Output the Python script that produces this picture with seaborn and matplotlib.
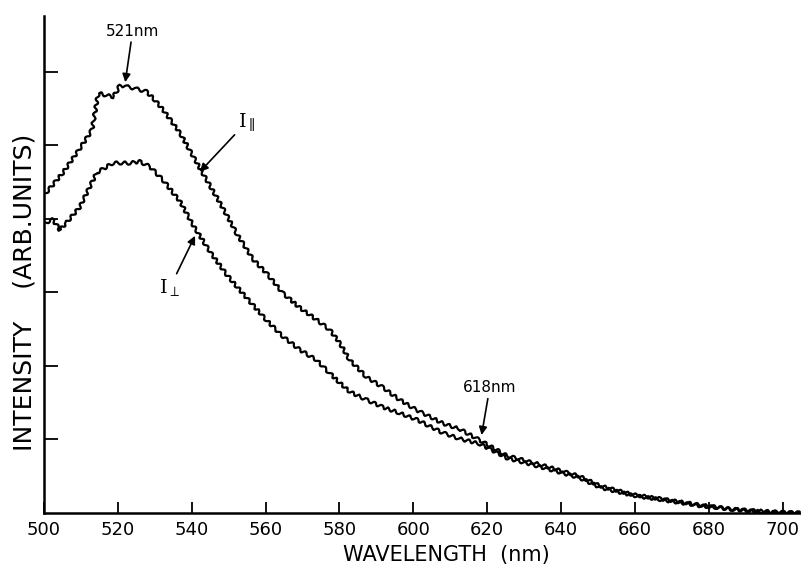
import numpy as np
import pandas as pd
import matplotlib
matplotlib.use("Agg")
import matplotlib.pyplot as plt
import seaborn as sns

# ---------- data ----------
wl_par = [500.5, 505, 509.5, 513, 514.7, 517, 518.8, 520.6, 522.4, 525, 527.8, 530,
          532.3, 536.8, 540.3, 543, 546.7, 549.5, 552.2, 556.6, 560.3, 564.7, 569.3,
          573.8, 577.4, 580.1, 582.8, 587.3, 591.7, 596.3, 600.9, 608, 612.6, 618,
          625.3, 634.2, 645, 650.5, 659.4, 668.6, 677.5, 686.5, 695.7, 704.6]
int_par = [4.35, 4.62, 4.94, 5.21, 5.71, 5.68, 5.66, 5.82, 5.80, 5.77, 5.73, 5.62,
           5.48, 5.17, 4.86, 4.62, 4.30, 4.05, 3.80, 3.45, 3.26, 2.99, 2.79,
           2.63, 2.49, 2.31, 2.08, 1.85, 1.71, 1.54, 1.40, 1.22, 1.14, 0.99,
           0.78, 0.66, 0.50, 0.37, 0.25, 0.18, 0.11, 0.05, 0.02, 0.0]

wl_perp = [500.5, 502.4, 504.3, 506.1, 509.7, 514.3, 518.7, 523.3, 526, 528.7, 532.2,
           536.8, 540.3, 545, 549.5, 553.9, 560.3, 564.7, 569.3, 573.8, 577.4, 580.1,
           582.8, 587.3, 591.7, 596.3, 600.9, 608, 612.6, 618, 625.3, 634.2, 645,
           650.5, 659.4, 668.6, 677.5, 686.5, 695.7, 704.6]
int_perp = [3.95, 3.99, 3.85, 3.95, 4.16, 4.63, 4.76, 4.76, 4.78, 4.71, 4.53,
            4.24, 3.92, 3.55, 3.24, 2.98, 2.62, 2.40, 2.22, 2.08, 1.90, 1.77,
            1.65, 1.54, 1.44, 1.36, 1.27, 1.09, 1.01, 0.94, 0.75, 0.63, 0.48,
            0.35, 0.24, 0.17, 0.10, 0.05, 0.01, 0.0]

x_ticks = [500, 520, 540, 560, 580, 600, 620, 640, 660, 680, 700]
y_ticks = [1, 2, 3, 4, 5, 6]

df = pd.concat([
    pd.DataFrame({'wl': wl_par, 'I': int_par, 'pol': 'par'}),
    pd.DataFrame({'wl': wl_perp, 'I': int_perp, 'pol': 'perp'}),
])

# ---------- style ----------
sns.set_style("ticks")
plt.rcParams['font.family'] = ['DejaVu Sans']
plt.rcParams['mathtext.fontset'] = 'dejavuserif'
for key in ['text.color', 'axes.labelcolor', 'xtick.color', 'ytick.color', 'axes.edgecolor']:
    plt.rcParams[key] = 'black'

fig = plt.figure(figsize=(8.01, 5.72), dpi=100)
ax = fig.add_axes([44 / 801, 59 / 572, 757 / 801, 497 / 572])

sns.lineplot(data=df, x='wl', y='I', hue='pol', palette={'par': 'black', 'perp': 'black'},
             estimator=None, sort=False, linewidth=1.6, legend=False, ax=ax)
# the recorder trace is slightly jagged
for ln in ax.lines:
    ln.set_sketch_params(scale=1.6, length=8, randomness=1.5)

ax.set_xlim(500, 705)
ax.set_ylim(0, 6.76)
ax.set_xticks(x_ticks)
ax.set_yticks(y_ticks)
ax.set_yticklabels([])
ax.tick_params(direction='in', length=8, width=1.3, labelsize=13, pad=6)
ax.tick_params(axis='y', length=10)
sns.despine(ax=ax)
for s in ['left', 'bottom']:
    ax.spines[s].set_linewidth(1.8)

ax.set_xlabel('WAVELENGTH  (nm)', fontsize=15)
ax.set_ylabel('INTENSITY    (ARB.UNITS)', fontsize=18)
ax.xaxis.set_label_coords(0.531, -0.065)
ax.yaxis.set_label_coords(-0.0105, 0.443)

# ---------- annotations ----------
arrow = dict(arrowstyle='-|>', color='black', lw=1.2, mutation_scale=12, shrinkA=0, shrinkB=0)
ax.annotate('521nm', xy=(522, 5.86), xytext=(524, 6.45), ha='center', va='bottom',
            fontsize=11, arrowprops=arrow)
ax.annotate('618nm', xy=(618.5, 1.06), xytext=(620.7, 1.6), ha='center', va='bottom',
            fontsize=11, arrowprops=arrow)
ax.annotate(r'$\mathrm{I}_{\parallel}$', xy=(542.2, 4.64), xytext=(552.5, 5.17),
            ha='left', va='bottom', fontsize=14, arrowprops=arrow)
ax.annotate(r'$\mathrm{I}_{\perp}$', xy=(540.9, 3.77), xytext=(534.1, 3.21),
            ha='center', va='top', fontsize=14, arrowprops=arrow)

fig.savefig('out.png', dpi=100)
